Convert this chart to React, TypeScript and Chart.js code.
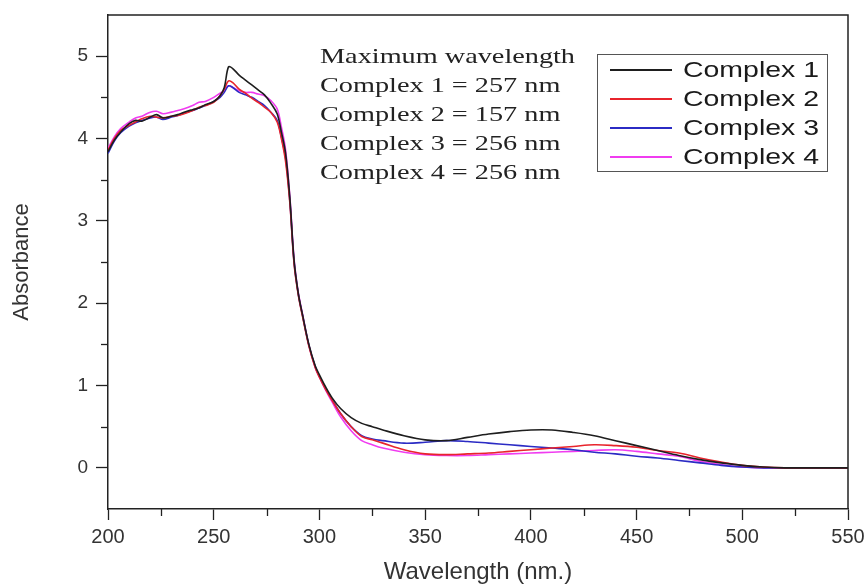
import React, { useEffect, useRef } from "react";
import { Chart, registerables } from "chart.js";

Chart.register(...registerables);

const wavelengths = [200,203,206,210,213,216,220,223,226,230,233,236,240,243,246,250,253,255,257,259,262,265,268,271,274,277,280,282,284,286,288,290,292,295,298,300,303,306,310,315,320,325,330,340,350,360,370,380,390,400,410,420,430,440,450,460,470,480,490,500,510,520,530,540,550];

const complex1 = [3.84,3.98,4.08,4.18,4.22,4.21,4.26,4.29,4.25,4.27,4.29,4.32,4.35,4.37,4.41,4.45,4.52,4.62,4.87,4.85,4.77,4.71,4.65,4.59,4.53,4.43,4.30,4.08,3.82,3.28,2.52,2.12,1.86,1.50,1.24,1.13,0.98,0.85,0.72,0.61,0.54,0.50,0.46,0.39,0.34,0.33,0.37,0.41,0.44,0.46,0.46,0.43,0.39,0.33,0.27,0.21,0.15,0.10,0.06,0.03,0.01,0.0,0.0,0.0,0.0];
const complex2 = [3.86,4.00,4.10,4.16,4.20,4.24,4.27,4.26,4.25,4.27,4.28,4.30,4.34,4.38,4.40,4.44,4.52,4.60,4.70,4.68,4.60,4.55,4.49,4.44,4.38,4.32,4.20,4.00,3.72,3.22,2.48,2.10,1.84,1.48,1.22,1.10,0.95,0.82,0.66,0.50,0.38,0.34,0.30,0.22,0.17,0.16,0.17,0.18,0.20,0.22,0.24,0.26,0.28,0.27,0.25,0.21,0.18,0.12,0.07,0.03,0.01,0.0,0.0,0.0,0.0];
const complex3 = [3.82,3.97,4.07,4.15,4.19,4.22,4.25,4.26,4.23,4.26,4.28,4.31,4.34,4.37,4.40,4.45,4.50,4.56,4.64,4.62,4.56,4.53,4.50,4.45,4.40,4.32,4.22,4.02,3.76,3.24,2.50,2.11,1.85,1.49,1.23,1.11,0.96,0.83,0.66,0.50,0.39,0.35,0.33,0.30,0.31,0.33,0.32,0.30,0.28,0.26,0.24,0.22,0.19,0.17,0.14,0.12,0.09,0.06,0.03,0.01,0.0,0.0,0.0,0.0,0.0];
const complex4 = [3.88,4.02,4.12,4.20,4.25,4.27,4.32,4.33,4.30,4.32,4.34,4.36,4.40,4.44,4.45,4.50,4.55,4.58,4.64,4.62,4.58,4.56,4.56,4.54,4.52,4.46,4.36,4.14,3.86,3.30,2.54,2.13,1.87,1.49,1.22,1.10,0.94,0.80,0.62,0.45,0.33,0.28,0.24,0.19,0.16,0.15,0.15,0.16,0.17,0.18,0.19,0.20,0.21,0.22,0.20,0.17,0.14,0.08,0.04,0.01,0.0,0.0,0.0,0.0,0.0];

const seriesLabels = ["Complex 1", "Complex 2", "Complex 3", "Complex 4"];
const seriesColors = ["#1e1e1e", "#e8242c", "#2b2bc4", "#f03cf0"];

const noteLines = [
  "Maximum wavelength",
  "Complex 1 = 257 nm",
  "Complex 2 = 157 nm",
  "Complex 3 = 256 nm",
  "Complex 4 = 256 nm",
];

const xTitle = "Wavelength (nm.)";
const yTitle = "Absorbance";

const isMajorX = (v: number) => v % 50 === 0;
const isMajorY = (v: number) => Number.isInteger(v);

const framePlugin = {
  id: "frame",
  afterDatasetsDraw(chart: any) {
    const { ctx, chartArea } = chart;
    ctx.save();
    ctx.strokeStyle = "#222";
    ctx.lineWidth = 1.5;
    ctx.beginPath();
    ctx.moveTo(chartArea.left, chartArea.top);
    ctx.lineTo(chartArea.right, chartArea.top);
    ctx.lineTo(chartArea.right, chartArea.bottom);
    ctx.stroke();
    // minor ticks
    ctx.lineWidth = 1.3;
    const xs = chart.scales.x;
    xs.ticks.forEach((t: any) => {
      if (isMajorX(t.value)) return;
      const px = Math.round(xs.getPixelForValue(t.value)) + 0.5;
      ctx.beginPath();
      ctx.moveTo(px, chartArea.bottom);
      ctx.lineTo(px, chartArea.bottom + 7);
      ctx.stroke();
    });
    const ys = chart.scales.y;
    ys.ticks.forEach((t: any) => {
      if (isMajorY(t.value) || t.value === -0.5 || t.value === 5.5) return;
      const py = Math.round(ys.getPixelForValue(t.value)) + 0.5;
      ctx.beginPath();
      ctx.moveTo(chartArea.left, py);
      ctx.lineTo(chartArea.left - 7, py);
      ctx.stroke();
    });
    ctx.restore();
  },
};

const notePlugin = {
  id: "note",
  afterDatasetsDraw(chart: any) {
    const { ctx } = chart;
    ctx.save();
    ctx.font = '21px "Liberation Serif", "Times New Roman", serif';
    ctx.fillStyle = "#222";
    ctx.textBaseline = "middle";
    ctx.textAlign = "left";
    const w = ctx.measureText(noteLines[0]).width;
    const sx = 255 / w;
    const x0 = 320;
    const ys = [57, 86, 115, 144, 173];
    noteLines.forEach((t, i) => {
      ctx.save();
      ctx.translate(x0, ys[i]);
      ctx.scale(sx, 1);
      ctx.fillText(t, 0, 0);
      ctx.restore();
    });
    ctx.restore();
  },
};

const legendPlugin = {
  id: "boxLegend",
  afterDatasetsDraw(chart: any) {
    const { ctx } = chart;
    ctx.save();
    ctx.fillStyle = "#ffffff";
    ctx.fillRect(597, 54, 230, 117);
    ctx.strokeStyle = "#555";
    ctx.lineWidth = 1;
    ctx.strokeRect(597.5, 54.5, 230, 117);
    ctx.font = '22px "Liberation Sans", Arial, sans-serif';
    ctx.textBaseline = "middle";
    ctx.textAlign = "left";
    const w = ctx.measureText("Complex 1").width;
    const sx = 136 / w;
    const ys = [70, 99, 128, 157];
    chart.data.datasets.forEach((ds: any, i: number) => {
      ctx.strokeStyle = ds.borderColor;
      ctx.lineWidth = 2;
      ctx.beginPath();
      ctx.moveTo(610, ys[i]);
      ctx.lineTo(672, ys[i]);
      ctx.stroke();
      ctx.fillStyle = "#1a1a1a";
      ctx.save();
      ctx.translate(683, ys[i] + 1);
      ctx.scale(sx, 1);
      ctx.fillText(ds.label, 0, 0);
      ctx.restore();
    });
    ctx.restore();
  },
};

export default function App() {
  const ref = useRef<HTMLCanvasElement | null>(null);
  useEffect(() => {
    document.body.style.margin = "0";
    const canvas = ref.current!;
    const allSeries = [complex1, complex2, complex3, complex4];
    const chart = new Chart(canvas, {
      type: "line",
      data: {
        datasets: allSeries.map((s, i) => ({
          label: seriesLabels[i],
          data: wavelengths.map((x, j) => ({ x, y: s[j] })),
          borderColor: seriesColors[i],
          backgroundColor: seriesColors[i],
          borderWidth: 1.6,
          pointRadius: 0,
          tension: 0.35,
          fill: false,
        })),
      },
      options: {
        responsive: false,
        maintainAspectRatio: false,
        animation: false,
        layout: { padding: { top: 15, right: 19, left: 0, bottom: 0 } },
        plugins: {
          legend: { display: false },
          tooltip: { enabled: false },
        },
        scales: {
          x: {
            type: "linear",
            min: 200,
            max: 550,
            afterFit: (s: any) => { s.height = 75; s.paddingLeft = 0; s.paddingRight = 0; },
            border: { display: true, color: "#222", width: 1.5 },
            grid: {
              drawOnChartArea: false,
              drawTicks: true,
              tickLength: 11,
              tickWidth: 1.3,
              tickColor: (c: any) => (c.tick && isMajorX(c.tick.value) ? "#222" : "rgba(0,0,0,0)"),
            },
            ticks: {
              stepSize: 25,
              autoSkip: false,
              maxRotation: 0,
              padding: 5,
              color: "#333",
              font: { family: '"Liberation Sans", Arial, sans-serif', size: 20 },
              callback: (v: any) => (isMajorX(Number(v)) ? String(v) : ""),
            },
            title: {
              display: true,
              text: xTitle,
              color: "#333",
              padding: { top: 0, bottom: 0 },
              font: { family: '"Liberation Sans", Arial, sans-serif', size: 24, lineHeight: 1 },
            },
          },
          y: {
            type: "linear",
            min: -0.5,
            max: 5.5,
            afterFit: (s: any) => { s.width = 108; s.paddingTop = 0; s.paddingBottom = 0; },
            border: { display: true, color: "#222", width: 1.5 },
            grid: {
              drawOnChartArea: false,
              drawTicks: true,
              tickLength: 12,
              tickWidth: 1.3,
              tickColor: (c: any) => (c.tick && isMajorY(c.tick.value) ? "#222" : "rgba(0,0,0,0)"),
            },
            ticks: {
              stepSize: 0.5,
              autoSkip: false,
              padding: 8,
              color: "#333",
              font: { family: '"Liberation Sans", Arial, sans-serif', size: 19 },
              callback: (v: any) => (isMajorY(Number(v)) ? String(v) : ""),
            },
            title: {
              display: true,
              text: yTitle,
              color: "#333",
              padding: { top: 11, bottom: 0 },
              font: { family: '"Liberation Sans", Arial, sans-serif', size: 22, lineHeight: 1 },
            },
          },
        },
      },
      plugins: [framePlugin, notePlugin, legendPlugin],
    });
    return () => chart.destroy();
  }, []);
  return (
    <div style={{ width: 867, height: 584, background: "#fff" }}>
      <canvas ref={ref} width={867} height={584} style={{ display: "block" }} />
    </div>
  );
}
